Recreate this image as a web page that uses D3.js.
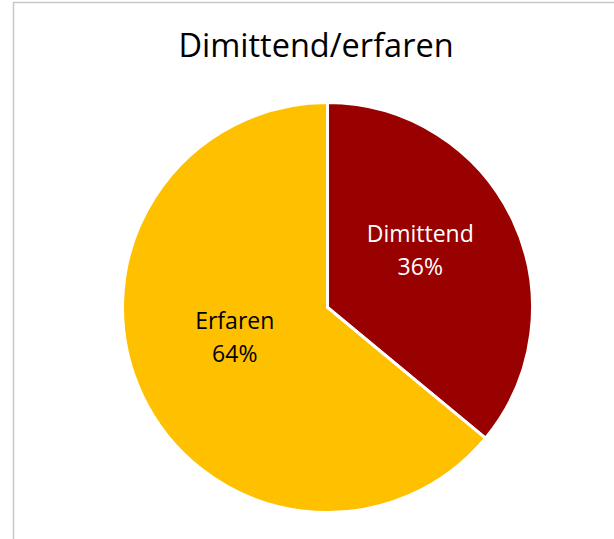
<!DOCTYPE html>
<html>
<head>
<meta charset="utf-8">
<script src="https://cdn.jsdelivr.net/npm/d3@7"></script>
<style>
  body { margin: 0; background: #fff; }
  svg { display: block; }
  text { font-family: "Open Sans", "Noto Sans", sans-serif; }
</style>
</head>
<body>
<div id="viz"></div>
<script>
// chart data
var categories = ["Dimittend", "Erfaren"];
var values = [36, 64];
var colors = ["#990000", "#FFC000"];
var labelColors = ["#ffffff", "#000000"];
var title = "Dimittend/erfaren";

var width = 614,
    height = 539,
    cx = 327.5,
    cy = 307.5,
    r = 205;

var svg = d3.select("#viz")
            .append("svg")
            .attr("width", width)
            .attr("height", height);

// chart area border (runs off the right and bottom edge)
svg.append("rect")
    .attr("x", 13.5)
    .attr("y", 2.5)
    .attr("width", width + 10)
    .attr("height", height + 10)
    .attr("fill", "none")
    .attr("stroke", "#c8c8c8")
    .attr("stroke-width", 1.5);

svg.append("text")
    .attr("x", 316)
    .attr("y", 57)
    .attr("text-anchor", "middle")
    .attr("fill", "#000")
    .style("font-size", "32.5px")
    .text(title);

var data = categories.map(function(c, i) { return {name: c, value: values[i]}; });

var pie = d3.pie()
    .sort(null)
    .value(function(d) { return d.value; });

var arc = d3.arc()
    .innerRadius(0)
    .outerRadius(r);

var labelArc = d3.arc()
    .innerRadius(0)
    .outerRadius(r);  // centroid sits at r/2

var total = d3.sum(values);

var g = svg.append("g")
    .attr("transform", "translate(" + cx + "," + cy + ")");

var slices = g.selectAll(".slice")
    .data(pie(data))
    .enter()
    .append("g")
    .attr("class", "slice");

slices.append("path")
    .attr("d", arc)
    .attr("fill", function(d, i) { return colors[i]; })
    .attr("stroke", "#fff")
    .attr("stroke-width", 3)
    .attr("stroke-linejoin", "miter");

// two-line labels: name + percent
var labels = slices.append("text")
    .attr("transform", function(d) {
        var c = labelArc.centroid(d);
        return "translate(" + c[0] + "," + (c[1] - 14) + ")";
    })
    .attr("text-anchor", "middle")
    .attr("fill", function(d, i) { return labelColors[i]; })
    .style("font-size", "23px");

labels.append("tspan")
    .attr("x", 0)
    .attr("y", -8)
    .text(function(d) { return d.data.name; });

labels.append("tspan")
    .attr("x", 0)
    .attr("y", 25)
    .text(function(d) { return Math.round(d.data.value / total * 100) + "%"; });
</script>
</body>
</html>
